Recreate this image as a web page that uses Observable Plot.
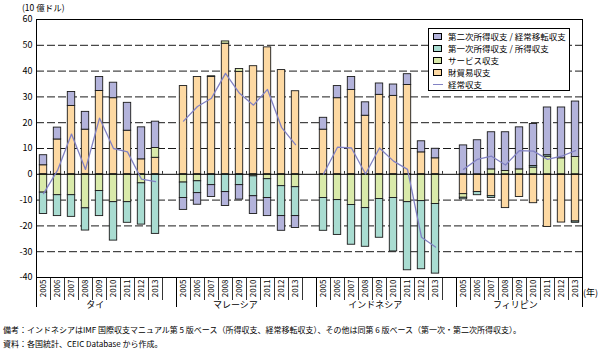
<!DOCTYPE html>
<html>
<head>
<meta charset="utf-8">
<script src="https://cdn.jsdelivr.net/npm/d3@7"></script>
<script src="https://cdn.jsdelivr.net/npm/@observablehq/plot@0.6"></script>
<style>
  body { margin: 0; background: #fff; font-family: "Noto Sans CJK JP", sans-serif; }
  #wrap { position: relative; width: 605px; height: 356px; }
  #chart { position: absolute; left: 0; top: 0; }
  .abs { position: absolute; white-space: nowrap; color: #000; }
  #legend { position: absolute; left: 428px; top: 28px; width: 142px; height: 63px; border: 1px solid #000; background: #fff; box-sizing: border-box; font-size: 8.5px; }
  .li { position: absolute; left: 4px; width: 134px; height: 12px; line-height: 12px; white-space: nowrap; }
  .sw { position: absolute; left: 0; top: 3px; width: 7px; height: 5px; border: 1px solid #000; }
  .ln { position: absolute; left: 0; top: 6px; width: 10px; height: 0; border-top: 1.2px solid #8282c4; }
  .lt { position: absolute; left: 15px; top: 0; white-space: nowrap; }
</style>
</head>
<body>
<div id="wrap">
  <div id="chart"></div>
  <div class="abs" style="left:22px; top:2px; font-size:8.5px; line-height:10px;">(10 億ドル)</div>
  <div class="abs" style="left:583px; top:286px; font-size:9px;">(年)</div>
  <div id="legend"></div>
  <div class="abs" style="left:3px; top:324px; font-size:8px;">備考：インドネシアはIMF 国際収支マニュアル第 5 版ベース（所得収支、経常移転収支）、その他は同第 6 版ベース（第一次・第二次所得収支）。</div>
  <div class="abs" style="left:3px; top:338px; font-size:8px;">資料：各国統計、CEIC Database から作成。</div>
</div>
<script>
// categories
const countries = ["タイ", "マレーシア", "インドネシア", "フィリピン"];
const years = ["2005", "2006", "2007", "2008", "2009", "2010", "2011", "2012", "2013"];
const seriesNames = ["財貿易収支", "サービス収支", "第一次所得収支 / 所得収支", "第二次所得収支 / 経常移転収支"];
const lineName = "経常収支";
const yTicks = [60, 50, 40, 30, 20, 10, 0, -10, -20, -30, -40];

// series values (10億ドル), rows: タイ, マレーシア, インドネシア, フィリピン; 2005..2013
const goods = [
  3.5, 13.5, 26.5, 17.3, 32.3, 29.5, 16.9, 5.8, 6.4,
  34.2, 37.7, 37.7, 50.6, 39.7, 41.9, 49.2, 40.4, 32.2,
  17.3, 29.5, 32.7, 22.7, 30.8, 30.4, 34.6, 8.5, 6.2,
  -7.7, -6.9, -8.5, -13.1, -8.8, -11.2, -20.4, -18.7, -18.3
];
const services = [
  -7.1, -8.1, -8.1, -13.2, -6.5, -10.8, -10.8, -3.5, 3.8,
  -3.2, -2.7, 0.3, 0.9, 1.1, -0.8, -1.9, -4.6, -5.0,
  -9.2, -10.0, -11.9, -13.1, -9.6, -9.2, -10.8, -10.4, -11.5,
  -1.4, 0, 1.9, 1.3, 1.9, 2.6, 6.8, 6.2, 6.7
];
const primary = [
  -8.3, -8.1, -8.4, -8.6, -9.7, -14.9, -8.0, -16.0, -23.1,
  -6.0, -4.6, -4.2, -6.9, -4.2, -7.7, -7.3, -11.6, -11.2,
  -12.7, -13.5, -15.4, -15.0, -15.0, -20.7, -26.4, -26.4, -27.0,
  -0.6, -1.2, -0.7, 0, 0, 0.6, 0.6, 0, -0.5
];
const secondary = [
  3.9, 4.6, 5.4, 6.9, 5.4, 6.0, 10.8, 12.4, 10.2,
  -4.6, -4.5, -4.6, -5.4, -5.6, -6.9, -7.0, -5.7, -4.6,
  4.6, 4.7, 5.0, 5.2, 4.4, 4.4, 4.2, 4.3, 3.7,
  11.2, 13.2, 14.4, 15.0, 16.3, 16.3, 18.5, 19.7, 21.5
];
const current = [
  -7.5, 1.5, 15.6, 1.9, 21.8, 10.0, 8.7, -1.9, -2.8,
  20.6, 26.3, 29.5, 39.1, 31.4, 26.8, 32.9, 18.2, 11.5,
  0.1, 10.5, 10.2, 0.1, 10.2, 5.1, 1.9, -24.4, -28.2,
  1.9, 5.8, 7.0, 3.6, 9.2, 9.0, 5.8, 7.0, 9.2
];

const colors = ["#fdd9a3", "#d9eaaa", "#a9dcd1", "#b3b3db"];
const lineColor = "#8282c4";

// build tables: each country has 9 year slots + 1 blank slot
const slotsPerGroup = years.length + 1;
const valueSets = [goods, services, primary, secondary];
const bars = [];
const pts = [];
const yearTicks = [];
countries.forEach((c, ci) => {
  years.forEach((y, yi) => {
    const k = ci * years.length + yi;
    const slot = ci * slotsPerGroup + yi;
    yearTicks.push({slot: slot + 0.5, year: y});
    seriesNames.forEach((s, si) => {
      const v = valueSets[si][k];
      if (v !== 0) bars.push({slot, country: c, year: y, series: s, value: v});
    });
    pts.push({slot: slot + 0.5, country: c, value: current[k]});
  });
});
const nSlots = countries.length * slotsPerGroup - 1;
const boundaries = d3.range(0, nSlots + 1);
const groupEdges = countries.map((c, i) => i * slotsPerGroup).concat([nSlots]);
const groupCenters = countries.map((c, i) => ({x: i * slotsPerGroup + years.length / 2 - 0.3, label: c}));
const grid = yTicks.filter(d => d !== 0 && d !== 60 && d !== -40);

const chart = Plot.plot({
  width: 605,
  height: 316,
  marginTop: 19,
  marginBottom: 39,
  marginLeft: 36,
  marginRight: 23,
  style: {fontFamily: "'Noto Sans CJK JP', sans-serif", fontSize: "9px", color: "#000", background: "#fff"},
  x: {type: "linear", domain: [0, nSlots], axis: null},
  y: {domain: [-40, 60], axis: null},
  color: {domain: seriesNames, range: colors},
  marks: [
    Plot.ruleY(grid, {stroke: "#000", strokeWidth: 0.9, strokeDasharray: "8,3"}),
    Plot.rectY(bars, {
      x: "slot", interval: 1, y: "value", fill: "series",
      order: seriesNames,
      stroke: "#1a1a1a", strokeWidth: 0.9,
      insetLeft: 3.3, insetRight: 3.3
    }),
    Plot.ruleY([0], {stroke: "#000", strokeWidth: 1}),
    Plot.ruleX(boundaries.slice(1, -1), {y1: 0, y2: 1.1, stroke: "#000", strokeWidth: 0.8}),
    Plot.line(pts, {x: "slot", y: "value", z: "country", stroke: lineColor, strokeWidth: 1.3}),
    Plot.frame({stroke: "#000", strokeWidth: 1}),
    Plot.axisY(yTicks, {tickSize: 0, tickPadding: 4, tickFormat: d => String(d), fontSize: 9, label: null}),
    Plot.axisX(boundaries, {tickSize: 23, tickFormat: () => "", label: null, strokeWidth: 0.8}),
    Plot.axisX(groupEdges, {tickSize: 30, tickFormat: () => "", label: null, strokeWidth: 1}),
    Plot.axisX(yearTicks.map(d => d.slot), {tickSize: 0, tickRotate: -90, tickPadding: 2, fontSize: 8,
      tickFormat: (d) => yearTicks.find(t => t.slot === d).year, label: null}),
    Plot.axisX(groupCenters.map(d => d.x), {tickSize: 0, tickPadding: 24, fontSize: 9,
      tickFormat: (d) => groupCenters.find(t => t.x === d).label, label: null})
  ]
});
document.getElementById("chart").appendChild(chart);

// legend (top to bottom: 第二次, 第一次, サービス, 財貿易, 経常収支)
const legend = document.getElementById("legend");
const legendItems = [3, 2, 1, 0].map(i => ({name: seriesNames[i], color: colors[i]}));
legendItems.forEach((it, i) => {
  const row = document.createElement("div");
  row.className = "li";
  row.style.top = (1 + i * 12) + "px";
  row.innerHTML = `<span class="sw" style="background:${it.color}"></span><span class="lt">${it.name}</span>`;
  legend.appendChild(row);
});
const lrow = document.createElement("div");
lrow.className = "li";
lrow.style.top = (1 + 4 * 12) + "px";
lrow.innerHTML = `<span class="ln"></span><span class="lt">${lineName}</span>`;
legend.appendChild(lrow);
</script>
</body>
</html>
